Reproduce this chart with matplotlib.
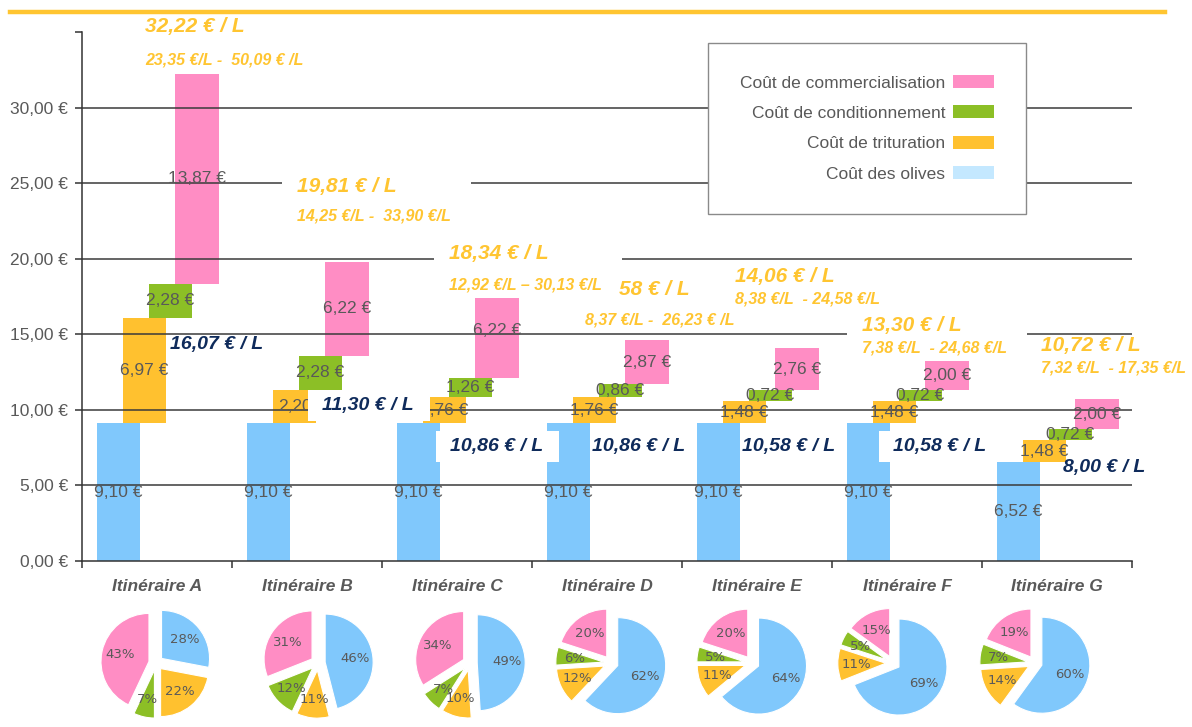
import matplotlib
matplotlib.use("Agg")
import matplotlib.pyplot as plt
import numpy as np
from matplotlib.patches import Patch, Rectangle
from matplotlib.lines import Line2D

plt.rcParams['font.family'] = ['Liberation Sans', 'DejaVu Sans']

# ---------------- data ----------------
categories = ["Itinéraire A", "Itinéraire B", "Itinéraire C", "Itinéraire D",
              "Itinéraire E", "Itinéraire F", "Itinéraire G"]
cout_olives = [9.10, 9.10, 9.10, 9.10, 9.10, 9.10, 6.52]
cout_trituration = [6.97, 2.20, 1.76, 1.76, 1.48, 1.48, 1.48]
cout_conditionnement = [2.28, 2.28, 1.26, 0.86, 0.72, 0.72, 0.72]
cout_commercialisation = [13.87, 6.22, 6.22, 2.87, 2.76, 2.00, 2.00]

prix_total = ["32,22 € / L", "19,81 € / L", "18,34 € / L", "58 € / L",
              "14,06 € / L", "13,30 € / L", "10,72 € / L"]
fourchette = ["23,35 €/L -  50,09 € /L", "14,25 €/L -  33,90 €/L",
              "12,92 €/L – 30,13 €/L", "8,37 €/L -  26,23 € /L",
              "8,38 €/L  - 24,58 €/L", "7,38 €/L  - 24,68 €/L",
              "7,32 €/L  - 17,35 €/L"]
prix_huile = ["16,07 € / L", "11,30 € / L", "10,86 € / L", "10,86 € / L",
              "10,58 € / L", "10,58 € / L", "8,00 € / L"]

pie_olives = [28, 46, 49, 62, 64, 69, 60]
pie_trituration = [22, 11, 10, 12, 11, 11, 14]
pie_conditionnement = [7, 12, 7, 6, 5, 5, 7]
pie_commercialisation = [43, 31, 34, 20, 20, 15, 19]

yticks = [0, 5, 10, 15, 20, 25, 30, 35]
ytick_labels = ["0,00 €", "5,00 €", "10,00 €", "15,00 €", "20,00 €",
                "25,00 €", "30,00 €", ""]

legend_labels = ["Coût de commercialisation", "Coût de conditionnement",
                 "Coût de trituration", "Coût des olives"]

# ---------------- layout ----------------
big_pos = [(-0.08, 35.36), (0.933, 24.77), (1.947, 20.33), (3.08, 17.95),
           (3.853, 18.81), (4.70, 15.56), (5.893, 14.24)]
range_pos = [(-0.08, 33.18), (0.933, 22.85), (1.947, 18.28), (2.853, 15.96),
             (3.853, 17.35), (4.70, 14.10), (5.893, 12.78)]
dark_pos = [(0.087, 14.3), (1.10, 10.26), (1.953, 7.55), (2.90, 7.55),
            (3.90, 7.55), (4.907, 7.55), (6.04, 6.2)]
framed = [False, True, True, False, False, True, False]
pie_cx_px = [156, 318, 470, 611, 752, 893, 1035]
pie_cy_px = 663

C_OLIVE = '#80C8FC'
C_OLIVE_LEG = '#C4E8FF'
C_TRIT = '#FFC12F'
C_COND = '#8CBF26'
C_COMM = '#FF8DC4'
GOLD = '#FFC531'
NAVY = '#0F2B5B'
GREY = '#595959'

W, H = 1192, 727
fig = plt.figure(figsize=(W / 100, H / 100), dpi=100)
ax = fig.add_axes([82 / W, 166 / H, 1050 / W, 529 / H])

x = np.arange(len(categories))
bw = 0.29
offs = [-0.257, -0.083, 0.09, 0.265]
b1 = np.array(cout_olives)
b2 = b1 + np.array(cout_trituration)
b3 = b2 + np.array(cout_conditionnement)

series = [
    (cout_olives, np.zeros(len(x)), C_OLIVE),
    (cout_trituration, b1, C_TRIT),
    (cout_conditionnement, b2, C_COND),
    (cout_commercialisation, b3, C_COMM),
]


def fmt(v):
    return f"{v:.2f}".replace('.', ',') + " €"


for k, (vals, bottom, col) in enumerate(series):
    ax.bar(x + offs[k], vals, bw, bottom=bottom, color=col, linewidth=0, zorder=2)
    for i, v in enumerate(vals):
        lab = fmt(v)
        if k == 1 and i == 1:
            lab = "2,20"
        ax.text(x[i] + offs[k], bottom[i] + v / 2, lab, ha='center', va='center',
                fontsize=12.5, color=GREY, zorder=3)

for yv in yticks[1:-1]:
    ax.axhline(yv, color='#3a3a3a', lw=1.1, zorder=2.5)

ax.set_xlim(-0.5, 6.5)
ax.set_ylim(0, 35)
ax.set_yticks(yticks)
ax.set_yticklabels(ytick_labels, fontsize=12.5, color=GREY)
ax.tick_params(axis='y', length=5, width=1.1, color='#333333', pad=5)
ax.set_xticks(np.arange(-0.5, 7, 1))
ax.set_xticklabels([])
ax.tick_params(axis='x', which='major', length=5, width=1.1, color='#333333')
ax.set_xticks(x, minor=True)
ax.set_xticklabels(categories, minor=True, fontsize=12.5, fontweight='bold',
                   fontstyle='italic', color=GREY)
ax.tick_params(axis='x', which='minor', length=0, pad=13)
for s in ['top', 'right']:
    ax.spines[s].set_visible(False)
for s in ['left', 'bottom']:
    ax.spines[s].set_color('#333333')
    ax.spines[s].set_linewidth(1.1)

big_texts, range_texts, dark_texts = [], [], []
for i in range(len(categories)):
    big_texts.append(ax.text(*big_pos[i], prix_total[i], fontsize=15, fontweight='bold',
                             fontstyle='italic', color=GOLD, ha='left', va='center',
                             zorder=6))
    range_texts.append(ax.text(*range_pos[i], fourchette[i], fontsize=11.5,
                               fontweight='bold', fontstyle='italic', color=GOLD,
                               ha='left', va='center', zorder=6))
    dark_texts.append(ax.text(*dark_pos[i], prix_huile[i], fontsize=14, fontweight='bold',
                              fontstyle='italic', color=NAVY, ha='left', va='center',
                              zorder=6))

leg_handles = [Patch(facecolor=c, edgecolor='none') for c in
               [C_COMM, C_COND, C_TRIT, C_OLIVE_LEG]]
leg = ax.legend(leg_handles, legend_labels, loc='upper left',
                bbox_to_anchor=(708 / W, 1 - 43 / H), bbox_transform=fig.transFigure,
                markerfirst=False, fontsize=12.5, frameon=True, fancybox=False,
                edgecolor='#8a8a8a', framealpha=1, borderpad=1.85, borderaxespad=0,
                handlelength=2.35, handleheight=0.75, handletextpad=0.45,
                labelspacing=0.86)
leg.get_frame().set_linewidth(1.0)
leg.set_zorder(7)
for t in leg.get_texts():
    t.set_color(GREY)

# white masks behind framed labels
fig.canvas.draw()
renderer = fig.canvas.get_renderer()
inv = fig.transFigure.inverted()


def add_mask(texts, pads):
    bbs = [t.get_window_extent(renderer) for t in texts]
    x0 = min(b.x0 for b in bbs) - pads[0]
    x1 = max(b.x1 for b in bbs) + pads[1]
    y0 = min(b.y0 for b in bbs) - pads[3]
    y1 = max(b.y1 for b in bbs) + pads[2]
    (fx0, fy0), (fx1, fy1) = inv.transform([(x0, y0), (x1, y1)])
    ax.add_patch(Rectangle((fx0, fy0), fx1 - fx0, fy1 - fy0, transform=fig.transFigure,
                           facecolor='white', edgecolor='none', zorder=5, clip_on=False))


for i in range(len(categories)):
    if framed[i]:
        add_mask([big_texts[i], range_texts[i]], (15, 20, 6, 6))
        add_mask([dark_texts[i]], (14, 16, 7, 7))

# pies
size = 120
for i in range(len(categories)):
    cx = pie_cx_px[i]
    pax = fig.add_axes([(cx - size / 2) / W, (H - pie_cy_px - size / 2) / H,
                        size / W, size / H])
    vals = [pie_olives[i], pie_trituration[i], pie_conditionnement[i],
            pie_commercialisation[i]]
    pax.pie(vals, colors=[C_OLIVE, C_TRIT, C_COND, C_COMM], startangle=90,
            counterclock=False, explode=[0.15] * 4, radius=1,
            autopct=lambda p: f"{p:.0f}%", pctdistance=0.62,
            wedgeprops=dict(edgecolor='white', linewidth=0.8),
            textprops=dict(fontsize=9.5, color=GREY, family='DejaVu Sans'))
    pax.set_xlim(-1.25, 1.25)
    pax.set_ylim(-1.25, 1.25)
    pax.set_aspect('equal')
    pax.axis('off')

fig.add_artist(Line2D([10 / W, 1165 / W], [1 - 12 / H, 1 - 12 / H], color=GOLD, lw=3.2))

fig.savefig("out.png", dpi=100)
